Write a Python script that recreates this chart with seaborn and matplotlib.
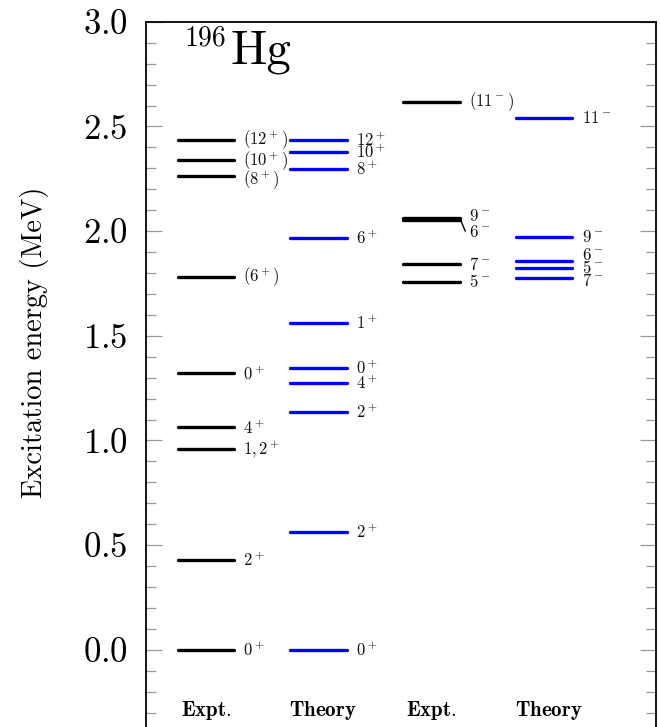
import numpy as np
import pandas as pd
import seaborn as sns
import matplotlib
matplotlib.use('Agg')
import matplotlib.pyplot as plt
from matplotlib.ticker import MultipleLocator

# level energies (MeV) and spin-parity labels, one list per column
expt_pos_E = [0.0, 0.430, 0.959, 1.062, 1.320, 1.783, 2.264, 2.339, 2.436]
expt_pos_lbl = ['0^+', '2^+', '1,2^+', '4^+', '0^+', '(6^+)', '(8^+)', '(10^+)', '(12^+)']

theo_pos_E = [0.0, 0.561, 1.137, 1.273, 1.346, 1.561, 1.968, 2.296, 2.380, 2.436]
theo_pos_lbl = ['0^+', '2^+', '2^+', '4^+', '0^+', '1^+', '6^+', '8^+', '10^+', '12^+']

expt_neg_E = [1.758, 1.842, 2.055, 2.065, 2.617]
expt_neg_lbl = ['5^-', '7^-', '6^-', '9^-', '(11^-)']

theo_neg_E = [1.776, 1.826, 1.858, 1.974, 2.542]
theo_neg_lbl = ['7^-', '5^-', '6^-', '9^-', '11^-']

column_names = ['Expt.', 'Theory', 'Expt.', 'Theory']
columns = [(expt_pos_E, expt_pos_lbl), (theo_pos_E, theo_pos_lbl),
           (expt_neg_E, expt_neg_lbl), (theo_neg_E, theo_neg_lbl)]

# small vertical shifts of crowded labels (MeV)
label_nudge = {(0, 6): -0.02, (2, 2): -0.06, (2, 3): 0.008,
               (3, 2): 0.03, (3, 0): -0.012}

sns.set_theme(style='white')
plt.rcParams['font.family'] = 'serif'
plt.rcParams['font.serif'] = ['cmr10', 'DejaVu Serif']
plt.rcParams['mathtext.fontset'] = 'cm'
plt.rcParams['axes.formatter.use_mathtext'] = True
plt.rcParams['text.color'] = 'black'
plt.rcParams['axes.labelcolor'] = 'black'
plt.rcParams['ytick.labelcolor'] = 'black'

rows = []
for col, (energies, labels) in enumerate(columns):
    kind = column_names[col]
    for i, e in enumerate(energies):
        for dx in (-0.25, 0.25):
            rows.append({'x': col + dx, 'E': e, 'level': f'{col}-{i}', 'kind': kind})
df = pd.DataFrame(rows)

fig = plt.figure(figsize=(6.6, 7.27), dpi=100)
ax = fig.add_axes([0.2212, -0.009, 0.7727, 0.979])

sns.lineplot(data=df, x='x', y='E', units='level', estimator=None, hue='kind',
             palette={'Expt.': 'black', 'Theory': '#0000ff'}, linewidth=2.4,
             sort=False, legend=False, ax=ax)

for col, (energies, labels) in enumerate(columns):
    for i, (e, lbl) in enumerate(zip(energies, labels)):
        ax.text(col + 0.33, e + label_nudge.get((col, i), 0.0), f'${lbl}$',
                ha='left', va='center', fontsize=12, color='#111111')
    ax.text(col + (0.04 if col % 2 else 0.0), -0.289,
            rf'$\mathbf{{{column_names[col]}}}$',
            ha='center', va='center', fontsize=15)

# leader line for the close 9-/6- pair
ax.plot([2.25, 2.30], [2.063, 2.0], color='black', lw=1.0)

# nucleus name
ax.text(-0.19, 2.885, '196', fontsize=20, ha='left', va='baseline')
ax.text(0.215, 2.80, 'Hg', fontsize=35, ha='left', va='baseline')

ax.set_xlim(-0.53, 3.99)
ax.set_ylim(-0.4, 3.0)
ax.set_xticks([])
ax.set_xlabel('')
ax.yaxis.set_major_locator(MultipleLocator(0.5))
ax.yaxis.set_minor_locator(MultipleLocator(0.1))
ax.tick_params(axis='y', which='both', direction='in', left=True, right=True,
               color='#999999', width=0.9, labelsize=25, pad=13)
ax.tick_params(axis='y', which='major', length=11.5)
ax.tick_params(axis='y', which='minor', length=7.2)
ax.set_ylabel('Excitation energy (MeV)', fontsize=20.5)
ax.yaxis.set_label_coords(-0.19, 0.55)

for side in ['left', 'right', 'top']:
    ax.spines[side].set_color('black')
    ax.spines[side].set_linewidth(1.3)
ax.spines['bottom'].set_visible(False)

fig.savefig('out.png', dpi=100)
